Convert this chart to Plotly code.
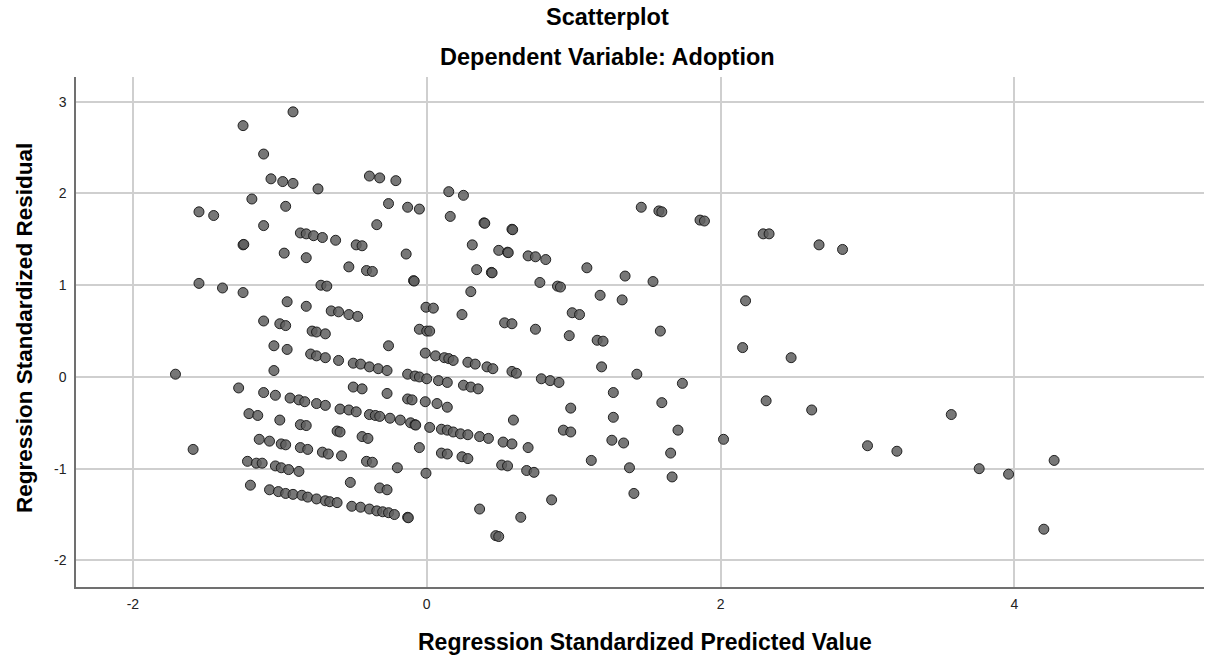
import plotly.graph_objects as go

# Regression standardized predicted value (x) and standardized residual (y)
pred_values = [
    # upper-left cluster
    -0.91, -1.25, -1.11, -1.06, -0.98, -0.91, -0.74, -1.19, -0.96, -1.55, -1.45, -1.11,
    -0.86, -0.82, -0.77, -0.71, -1.25, -1.245, -0.97, -0.82, -1.55, -1.39, -1.25, -0.72,
    -0.68, -0.95, -0.82, -1.11, -1.00, -0.96, -0.78, -0.75, -0.69,
    # lower-left cluster
    -1.04, -0.95, -0.79, -0.75, -0.69, -1.04, -1.71, -1.28, -1.11, -1.03, -0.93, -0.87,
    -0.83, -0.75, -0.69, -1.21, -1.15, -1.00, -0.86, -0.82, -1.14, -1.07, -0.99, -0.96,
    -0.86, -0.81, -0.71, -0.67, -1.59, -1.22, -1.16, -1.12, -1.03, -0.99, -0.94, -0.87,
    -1.20, -1.07, -1.01, -0.96, -0.91, -0.85, -0.81, -0.75, -0.69,
    # upper-middle cluster
    -0.39, -0.32, -0.21, 0.15, 0.25, -0.26, -0.13, -0.05, 0.16, 0.39, 0.395, 0.58, 0.585,
    -0.34, -0.62, -0.48, -0.44, -0.14, 0.31, 0.49, 0.55, 0.555, 0.69, -0.53, -0.41, -0.37,
    0.34, 0.44, 0.445, -0.09, -0.085, 0.30, -0.005, 0.045, -0.65, -0.60, -0.53, -0.47,
    0.24, 0.53, 0.58, -0.05, 0.00, 0.02,
    # lower-middle cluster
    -0.26, -0.60, -0.50, -0.45, -0.39, -0.33, -0.27, -0.01, 0.06, 0.12, 0.15, 0.18, 0.28,
    0.33, 0.41, 0.45, 0.58, 0.61, -0.13, -0.08, -0.05, 0.00, 0.08, 0.14, 0.25, 0.30, 0.35,
    -0.50, -0.44, -0.27, -0.13, -0.10, -0.01, 0.07, 0.14, -0.59, -0.53, -0.48, -0.39,
    -0.35, -0.32, -0.25, -0.18, -0.11, -0.08, -0.075, 0.59, 0.02, 0.10, 0.14, 0.18, 0.23,
    0.28, 0.36, 0.42, 0.52, 0.58, 0.69, -0.61, -0.59, -0.44, -0.40, -0.05, 0.10, 0.14,
    0.24, 0.28, -0.58, -0.41, -0.37, -0.20, -0.005, 0.51, 0.55, 0.68, -0.52, -0.32, -0.27,
    -0.66, -0.61, -0.51, -0.45, -0.39, -0.34, -0.30, -0.26, -0.22, -0.13, -0.125, 0.36,
    0.64, 0.47, 0.49,
    # upper-right cluster
    1.46, 1.58, 1.60, 1.86, 1.89, 0.74, 0.81, 1.09, 1.35, 0.77, 0.89, 0.91, 1.54, 1.18,
    1.33, 2.17, 0.99, 1.04, 0.74, 0.97, 1.16, 1.20, 1.59,
    # lower-right cluster
    2.15, 1.19, 1.43, 0.78, 0.84, 0.90, 1.74, 1.27, 1.60, 0.98, 1.27, 0.93, 0.98, 1.71,
    2.02, 1.26, 1.34, 1.66, 1.12, 1.38, 0.73, 1.67, 0.85, 1.41,
    # far right
    2.29, 2.33, 2.67, 2.83, 2.48, 2.31, 2.62, 3.57, 3.00, 3.20, 3.76, 3.96, 4.27, 4.20,
]

resid_values = [
    # upper-left cluster
    2.89, 2.74, 2.43, 2.16, 2.13, 2.11, 2.05, 1.94, 1.86, 1.80, 1.76, 1.65,
    1.57, 1.56, 1.54, 1.52, 1.44, 1.445, 1.35, 1.30, 1.02, 0.97, 0.92, 1.00,
    0.99, 0.82, 0.77, 0.61, 0.58, 0.56, 0.50, 0.49, 0.47,
    # lower-left cluster
    0.34, 0.30, 0.25, 0.23, 0.21, 0.07, 0.03, -0.12, -0.17, -0.20, -0.23, -0.25,
    -0.27, -0.29, -0.31, -0.40, -0.42, -0.47, -0.52, -0.53, -0.68, -0.70, -0.73, -0.74,
    -0.77, -0.79, -0.82, -0.84, -0.79, -0.92, -0.94, -0.94, -0.97, -0.99, -1.01, -1.03,
    -1.18, -1.23, -1.25, -1.27, -1.28, -1.29, -1.31, -1.33, -1.35,
    # upper-middle cluster
    2.19, 2.17, 2.14, 2.02, 1.98, 1.89, 1.85, 1.83, 1.75, 1.68, 1.675, 1.61, 1.605,
    1.66, 1.49, 1.44, 1.43, 1.34, 1.44, 1.38, 1.36, 1.355, 1.32, 1.20, 1.16, 1.15,
    1.17, 1.14, 1.135, 1.05, 1.045, 0.93, 0.76, 0.75, 0.72, 0.71, 0.68, 0.66,
    0.68, 0.59, 0.58, 0.52, 0.50, 0.50,
    # lower-middle cluster
    0.34, 0.18, 0.15, 0.14, 0.11, 0.09, 0.07, 0.26, 0.23, 0.21, 0.20, 0.18, 0.16,
    0.14, 0.11, 0.09, 0.06, 0.04, 0.03, 0.01, 0.00, -0.02, -0.04, -0.06, -0.09, -0.11, -0.13,
    -0.11, -0.13, -0.18, -0.24, -0.25, -0.27, -0.29, -0.33, -0.35, -0.36, -0.38, -0.41,
    -0.42, -0.43, -0.45, -0.47, -0.50, -0.52, -0.525, -0.47, -0.55, -0.57, -0.58, -0.60, -0.62,
    -0.63, -0.65, -0.67, -0.71, -0.73, -0.77, -0.59, -0.60, -0.65, -0.67, -0.77, -0.83, -0.84,
    -0.87, -0.89, -0.86, -0.92, -0.93, -0.99, -1.05, -0.96, -0.97, -1.02, -1.15, -1.21, -1.23,
    -1.36, -1.37, -1.41, -1.42, -1.44, -1.46, -1.47, -1.48, -1.50, -1.53, -1.535, -1.44,
    -1.53, -1.73, -1.74,
    # upper-right cluster
    1.85, 1.81, 1.80, 1.71, 1.70, 1.31, 1.28, 1.19, 1.10, 1.03, 0.99, 0.98, 1.04, 0.89,
    0.84, 0.83, 0.70, 0.68, 0.52, 0.45, 0.40, 0.39, 0.50,
    # lower-right cluster
    0.32, 0.11, 0.03, -0.02, -0.04, -0.06, -0.07, -0.17, -0.28, -0.34, -0.44, -0.58, -0.60, -0.58,
    -0.68, -0.69, -0.72, -0.83, -0.91, -0.99, -1.04, -1.09, -1.34, -1.27,
    # far right
    1.56, 1.56, 1.44, 1.39, 0.21, -0.26, -0.36, -0.41, -0.75, -0.81, -1.00, -1.06, -0.91, -1.66,
]

x_ticks = [-2, 0, 2, 4]
y_ticks = [-2, -1, 0, 1, 2, 3]

title_main = "Scatterplot"
title_sub = "Dependent Variable: Adoption"
x_title = "Regression Standardized Predicted Value"
y_title = "Regression Standardized Residual"

FONT = "Liberation Sans, Arial, sans-serif"

fig = go.Figure()
fig.add_trace(go.Scatter(
    x=pred_values, y=resid_values, mode="markers",
    marker=dict(size=10, color="rgba(95,95,95,0.85)",
                line=dict(color="rgba(25,25,25,0.95)", width=1)),
    hoverinfo="x+y", showlegend=False,
))

fig.update_layout(
    width=1221, height=657,
    margin=dict(l=76, r=17, t=77, b=70),
    paper_bgcolor="white", plot_bgcolor="white",
    font=dict(family=FONT, color="black"),
    xaxis=dict(
        range=[-2.387, 5.29], tickvals=x_ticks, ticktext=[str(v) for v in x_ticks],
        showgrid=True, gridcolor="#cfcfcf", gridwidth=1.5, zeroline=False,
        showline=True, linecolor="#707070", linewidth=1.5,
        ticks="outside", ticklen=3, tickcolor="rgba(0,0,0,0)",
        tickfont=dict(size=14, family=FONT, color="#222"),
    ),
    yaxis=dict(
        range=[-2.29, 3.27], tickvals=y_ticks, ticktext=[str(v) for v in y_ticks],
        showgrid=True, gridcolor="#cfcfcf", gridwidth=1.5, zeroline=False,
        showline=True, linecolor="#707070", linewidth=1.5,
        ticks="outside", ticklen=5, tickcolor="rgba(0,0,0,0)",
        tickfont=dict(size=14, family=FONT, color="#222"),
    ),
    annotations=[
        dict(text="<b>%s</b>" % title_main, xref="paper", yref="paper",
             x=0.4716, y=1.117, xanchor="center", yanchor="middle",
             showarrow=False, font=dict(size=23.5, family=FONT, color="black")),
        dict(text="<b>%s</b>" % title_sub, xref="paper", yref="paper",
             x=0.4716, y=1.039, xanchor="center", yanchor="middle",
             showarrow=False, font=dict(size=23.5, family=FONT, color="black")),
        dict(text="<b>%s</b>" % x_title, xref="paper", yref="paper",
             x=0.5044, y=-0.108, xanchor="center", yanchor="middle",
             showarrow=False, font=dict(size=23, family=FONT, color="black")),
        dict(text="<b>%s</b>" % y_title, xref="paper", yref="paper",
             x=-0.0452, y=0.508, xanchor="center", yanchor="middle", textangle=-90,
             showarrow=False, font=dict(size=22.5, family=FONT, color="black")),
    ],
)

fig.write_html("out.html", config={"displayModeBar": False},
               post_script="document.body.style.margin='0';")
